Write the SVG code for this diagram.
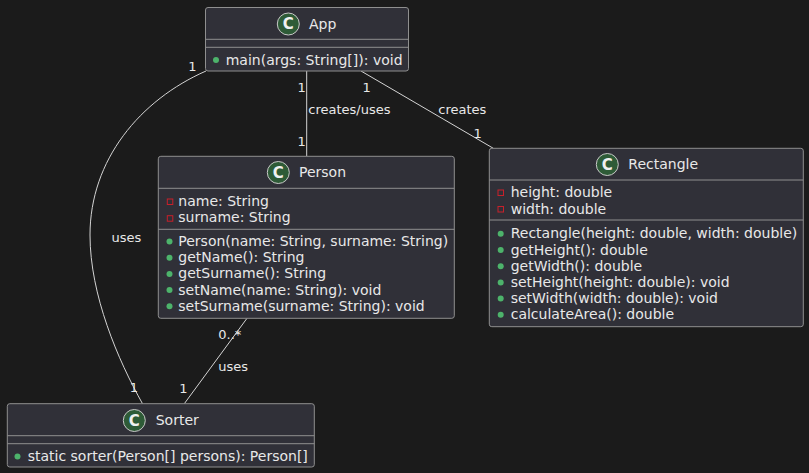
<svg xmlns="http://www.w3.org/2000/svg" width="809" height="473" viewBox="0 0 809 473">
<style>
text{font-family:"DejaVu Sans","Liberation Sans",sans-serif;fill:#e8e8e8}
.box{fill:#303038;stroke:#8f8f8f;stroke-width:1}
.sep{stroke:#8f8f8f;stroke-width:1}
.ic{fill:#2e5b37;stroke:#c8c8c8;stroke-width:1}
.ict{font-size:15px;font-weight:bold;fill:#f0f0f0;text-anchor:middle}
.hd{font-size:14px}
.m{font-size:14px}
.pub{fill:#4db36b}
.priv{fill:none;stroke:#c8202a;stroke-width:1}
.ln{fill:none;stroke:#d4d4d4;stroke-width:1}
.lb{font-size:13px}
.mid{text-anchor:middle}
</style>
<rect width="809" height="473" fill="#1b1b1b"/>
<g id="connectors">
<path class="ln" d="M206,71 C140,100 90,160 90,235 C90,295 118,360 142.5,403.7"/>
<line class="ln" x1="306.7" y1="71" x2="306.7" y2="156.3"/>
<line class="ln" x1="361" y1="71" x2="493.3" y2="148.3"/>
<line class="ln" x1="247" y1="318.3" x2="184.3" y2="403.7"/>
<text class="lb mid" x="192.5" y="70.5">1</text>
<text class="lb" x="111.5" y="242">uses</text>
<text class="lb mid" x="134" y="391.5">1</text>
<text class="lb mid" x="301.7" y="91.5">1</text>
<text class="lb" x="308.3" y="114">creates/uses</text>
<text class="lb mid" x="301.7" y="145.5">1</text>
<text class="lb mid" x="366.7" y="91.5">1</text>
<text class="lb" x="438.3" y="114">creates</text>
<text class="lb mid" x="477.7" y="138">1</text>
<text class="lb" x="218.3" y="338.5">0..*</text>
<text class="lb" x="218.3" y="370.5">uses</text>
<text class="lb mid" x="183.3" y="393">1</text>
</g>
<g id="App">
<rect class="box" x="205.5" y="7.5" width="203" height="63.5" rx="2.5"/>
<line class="sep" x1="205.5" y1="39.3" x2="408.5" y2="39.3"/>
<line class="sep" x1="205.5" y1="47.3" x2="408.5" y2="47.3"/>
<circle class="ic" cx="288.3" cy="24" r="11"/>
<text class="ict" x="288.3" y="29.3">C</text>
<text class="hd" x="309" y="28.5">App</text>
<circle class="pub" cx="216" cy="60" r="3"/>
<text class="m" x="225.7" y="65">main(args: String[]): void</text>
</g>
<g id="Person">
<rect class="box" x="158.3" y="156.3" width="296" height="162" rx="2.5"/>
<line class="sep" x1="158.3" y1="188.3" x2="454.3" y2="188.3"/>
<line class="sep" x1="158.3" y1="229.3" x2="454.3" y2="229.3"/>
<circle class="ic" cx="278.3" cy="172.5" r="11"/>
<text class="ict" x="278.3" y="177.8">C</text>
<text class="hd" x="299" y="177">Person</text>
<rect class="priv" x="167.3" y="199" width="5.5" height="5.5"/>
<text class="m" x="178.3" y="205.5">name: String</text>
<rect class="priv" x="167.3" y="215.7" width="5.5" height="5.5"/>
<text class="m" x="178.3" y="222">surname: String</text>
<circle class="pub" cx="169.5" cy="241.5" r="3"/>
<text class="m" x="178.3" y="246">Person(name: String, surname: String)</text>
<circle class="pub" cx="169.5" cy="257.7" r="3"/>
<text class="m" x="178.3" y="262.2">getName(): String</text>
<circle class="pub" cx="169.5" cy="273.9" r="3"/>
<text class="m" x="178.3" y="278.4">getSurname(): String</text>
<circle class="pub" cx="169.5" cy="290.1" r="3"/>
<text class="m" x="178.3" y="294.6">setName(name: String): void</text>
<circle class="pub" cx="169.5" cy="306.3" r="3"/>
<text class="m" x="178.3" y="310.8">setSurname(surname: String): void</text>
</g>
<g id="Rectangle">
<rect class="box" x="489.3" y="148.3" width="314" height="178.4" rx="2.5"/>
<line class="sep" x1="489.3" y1="180" x2="803.3" y2="180"/>
<line class="sep" x1="489.3" y1="220" x2="803.3" y2="220"/>
<circle class="ic" cx="607.3" cy="164.5" r="11"/>
<text class="ict" x="607.3" y="169.8">C</text>
<text class="hd" x="628.3" y="169">Rectangle</text>
<rect class="priv" x="498" y="190" width="5.5" height="5.5"/>
<text class="m" x="510.7" y="197">height: double</text>
<rect class="priv" x="498" y="206.5" width="5.5" height="5.5"/>
<text class="m" x="510.7" y="213.7">width: double</text>
<circle class="pub" cx="500.7" cy="233.8" r="3"/>
<text class="m" x="510.7" y="238.3">Rectangle(height: double, width: double)</text>
<circle class="pub" cx="500.7" cy="250" r="3"/>
<text class="m" x="510.7" y="254.5">getHeight(): double</text>
<circle class="pub" cx="500.7" cy="266.2" r="3"/>
<text class="m" x="510.7" y="270.7">getWidth(): double</text>
<circle class="pub" cx="500.7" cy="282.4" r="3"/>
<text class="m" x="510.7" y="286.9">setHeight(height: double): void</text>
<circle class="pub" cx="500.7" cy="298.6" r="3"/>
<text class="m" x="510.7" y="303.1">setWidth(width: double): void</text>
<circle class="pub" cx="500.7" cy="314.8" r="3"/>
<text class="m" x="510.7" y="319.3">calculateArea(): double</text>
</g>
<g id="Sorter">
<rect class="box" x="7.3" y="403.7" width="307" height="63.3" rx="2.5"/>
<line class="sep" x1="7.3" y1="435.7" x2="314.3" y2="435.7"/>
<line class="sep" x1="7.3" y1="443.7" x2="314.3" y2="443.7"/>
<circle class="ic" cx="134.3" cy="420.5" r="11"/>
<text class="ict" x="134.3" y="425.8">C</text>
<text class="hd" x="155.7" y="425">Sorter</text>
<circle class="pub" cx="17.5" cy="456.5" r="3"/>
<text class="m" x="27.7" y="461">static sorter(Person[] persons): Person[]</text>
</g>
</svg>
